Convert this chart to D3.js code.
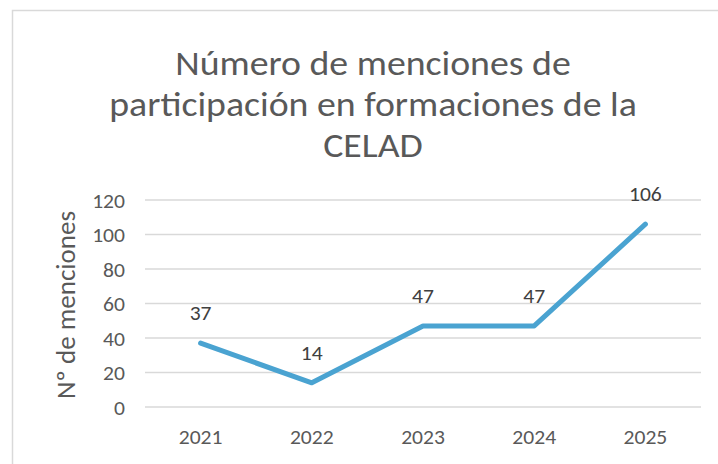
<!DOCTYPE html>
<html>
<head>
<meta charset="utf-8">
<script src="https://cdn.jsdelivr.net/npm/d3@7"></script>
<style>
  body { margin: 0; background: #fff; }
  text { font-family: Carlito, "Liberation Sans Narrow", "Open Sans", sans-serif; }
</style>
</head>
<body>
<div id="chart"></div>
<script>
var years = ["2021", "2022", "2023", "2024", "2025"];
var menciones = [37, 14, 47, 47, 106];
var yTicks = [0, 20, 40, 60, 80, 100, 120];
var titleLines = ["Número de menciones de", "participación en formaciones de la", "CELAD"];
var yTitle = "Nº de menciones";

(function() {
    var width = 718,
        height = 464;

    // the text in the picture is a little wider than the font
    var stretch = 1.08;

    var svg = d3.select("#chart")
        .append("svg")
        .attr("width", width)
        .attr("height", height)

    // chart border (only top and left are visible in the frame)
    svg.append("rect")
        .attr("x", 12.5)
        .attr("y", 10.5)
        .attr("width", 720)
        .attr("height", 470)
        .attr("fill", "none")
        .attr("stroke", "#d9d9d9")
        .attr("stroke-width", 1.5)

    var plotLeft = 145, plotRight = 701, plotTop = 200, plotBottom = 407;

    var x = d3.scaleBand().domain(years).range([plotLeft, plotRight])
    var y = d3.scaleLinear().domain([0, 120]).range([plotBottom, plotTop])

    // title
    svg.append("text")
        .attr("transform", "translate(373,0) scale(" + stretch + ",1)")
        .attr("text-anchor", "middle")
        .attr("fill", "#595959")
        .attr("font-size", 35)
        .selectAll("tspan")
        .data(titleLines)
        .enter().append("tspan")
        .attr("x", 0)
        .attr("y", function(d, i) { return 75 + i * 41 })
        .text(function(d) { return d })

    // gridlines
    svg.append("g")
        .selectAll("line")
        .data(yTicks)
        .enter().append("line")
        .attr("x1", plotLeft)
        .attr("x2", plotRight)
        .attr("y1", function(d) { return y(d) })
        .attr("y2", function(d) { return y(d) })
        .attr("stroke", "#d9d9d9")
        .attr("stroke-width", 1.5)

    // y axis labels
    var yAxis = svg.append("g")
        .attr("transform", "translate(" + (plotLeft - 20) + ",0)")
        .call(d3.axisLeft(y).tickValues(yTicks).tickSize(0).tickPadding(0))
    yAxis.select(".domain").remove()
    yAxis.selectAll("text")
        .attr("fill", "#595959")
        .attr("font-size", 20)
        .attr("dy", "0.35em")
        .attr("transform", "scale(" + stretch + ",1)")

    // x axis labels
    var xAxis = svg.append("g")
        .attr("transform", "translate(0," + (plotBottom + 23) + ")")
        .call(d3.axisBottom(x).tickSize(0).tickPadding(0))
    xAxis.select(".domain").remove()
    xAxis.selectAll("text")
        .attr("fill", "#595959")
        .attr("font-size", 20)
        .attr("dy", "0.71em")
        .attr("transform", "scale(" + stretch + ",1)")

    // y axis title
    svg.append("text")
        .attr("transform", "translate(75,305) rotate(-90)")
        .attr("text-anchor", "middle")
        .attr("fill", "#595959")
        .attr("font-size", 27)
        .text(yTitle)

    // line
    var line = d3.line()
        .x(function(d, i) { return x(years[i]) + x.bandwidth() / 2 })
        .y(function(d) { return y(d) })

    svg.append("path")
        .datum(menciones)
        .attr("d", line)
        .attr("fill", "none")
        .attr("stroke", "#4aa3d1")
        .attr("stroke-width", 5)
        .attr("stroke-linecap", "round")
        .attr("stroke-linejoin", "round")

    // data labels
    svg.append("g")
        .selectAll("text")
        .data(menciones)
        .enter().append("text")
        .attr("transform", function(d, i) {
            return "translate(" + (x(years[i]) + x.bandwidth() / 2) + "," + (y(d) - 23) + ") scale(" + stretch + ",1)"
        })
        .attr("text-anchor", "middle")
        .attr("fill", "#404040")
        .attr("font-size", 20)
        .text(function(d) { return d })
})();
</script>
</body>
</html>
